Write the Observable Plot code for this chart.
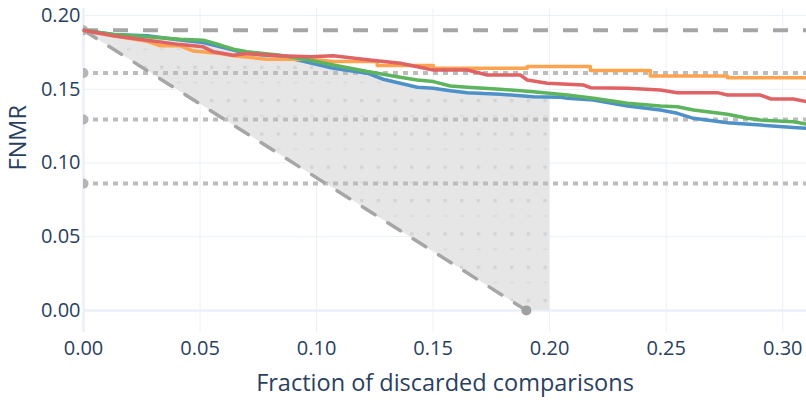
<!DOCTYPE html>
<html>
<head>
<meta charset="utf-8">
<script src="https://cdn.jsdelivr.net/npm/d3@7"></script>
<script src="https://cdn.jsdelivr.net/npm/@observablehq/plot@0.6"></script>
<style>
  html, body { margin: 0; padding: 0; background: white; }
</style>
</head>
<body>
<div id="chart"></div>
<script>
const xTicks = [0, 0.05, 0.10, 0.15, 0.20, 0.25, 0.30];
const yTicks = [0, 0.05, 0.10, 0.15, 0.20];

const baseline = 0.19;
const thresholds = [0.161, 0.1295, 0.086];
const fillLimit = 0.20;

const blueX = [0, 0.0128, 0.0273, 0.0415, 0.0514, 0.0587, 0.0702, 0.0844, 0.0930, 0.1072, 0.1218, 0.1286, 0.1359, 0.1432, 0.1501, 0.1574, 0.1647, 0.1788, 0.1930, 0.2046, 0.2076, 0.2188, 0.2218, 0.2334, 0.2475, 0.2548, 0.2617, 0.2763, 0.2904, 0.3046, 0.3102];
const blueY = [0.19, 0.1871, 0.1863, 0.1835, 0.1817, 0.1788, 0.1742, 0.1724, 0.1695, 0.1643, 0.1609, 0.1568, 0.1541, 0.1514, 0.1507, 0.1490, 0.1477, 0.1466, 0.1450, 0.1446, 0.1439, 0.1427, 0.1418, 0.1386, 0.1359, 0.1337, 0.1303, 0.1273, 0.1257, 0.1241, 0.1235];

const greenX = [0, 0.0128, 0.0273, 0.0415, 0.0514, 0.0587, 0.0643, 0.0702, 0.0844, 0.0973, 0.1072, 0.1218, 0.1359, 0.1432, 0.1501, 0.1574, 0.1647, 0.1788, 0.1930, 0.2076, 0.2188, 0.2334, 0.2475, 0.2548, 0.2617, 0.2763, 0.2848, 0.2904, 0.3046, 0.3102];
const greenY = [0.19, 0.1871, 0.1856, 0.1840, 0.1833, 0.1800, 0.1772, 0.1754, 0.1731, 0.1697, 0.1665, 0.1620, 0.1582, 0.1563, 0.1552, 0.1522, 0.1514, 0.1500, 0.1484, 0.1461, 0.1439, 0.1405, 0.1386, 0.1382, 0.1359, 0.1330, 0.1303, 0.1291, 0.1280, 0.1264];

const redX = [0, 0.0128, 0.0273, 0.0415, 0.0514, 0.0557, 0.0643, 0.0702, 0.0844, 0.0973, 0.1072, 0.1218, 0.1359, 0.1501, 0.1647, 0.1733, 0.1874, 0.1904, 0.1990, 0.2145, 0.2175, 0.2334, 0.2475, 0.2548, 0.2720, 0.2763, 0.2904, 0.2950, 0.3046, 0.3102];
const redY = [0.19, 0.1863, 0.1833, 0.1803, 0.1788, 0.1754, 0.1731, 0.1742, 0.1727, 0.1720, 0.1727, 0.1700, 0.1677, 0.1631, 0.1631, 0.1597, 0.1597, 0.1563, 0.1541, 0.1529, 0.1511, 0.1507, 0.1495, 0.1477, 0.1477, 0.1461, 0.1461, 0.1434, 0.1434, 0.1416];

const orangeX = [0, 0.0128, 0.0273, 0.0330, 0.0415, 0.0472, 0.0587, 0.0643, 0.0788, 0.0973, 0.1072, 0.1260, 0.1260, 0.1501, 0.1501, 0.1904, 0.1904, 0.2175, 0.2175, 0.2432, 0.2432, 0.2763, 0.2763, 0.3102];
const orangeY = [0.19, 0.1863, 0.1826, 0.1795, 0.1795, 0.1759, 0.1742, 0.1727, 0.1704, 0.1704, 0.1688, 0.1688, 0.1662, 0.1662, 0.1643, 0.1643, 0.1654, 0.1654, 0.1627, 0.1627, 0.1590, 0.1590, 0.1579, 0.1579];

const seriesNames = ["blue", "orange", "green", "red"];
const seriesColors = ["#4e90c8", "#ffa34f", "#5cb55c", "#e06264"];

const seriesData = {
  blue: [blueX, blueY],
  orange: [orangeX, orangeY],
  green: [greenX, greenY],
  red: [redX, redY]
};
const rows = seriesNames.flatMap(name =>
  seriesData[name][0].map((x, i) => ({series: name, x, y: seriesData[name][1][i]}))
);

// shaded region between the ideal diagonal and the blue curve, up to fillLimit
const interp = (xs, ys, x) => {
  const i = d3.bisectRight(xs, x);
  if (i <= 0) return ys[0];
  if (i >= xs.length) return ys[ys.length - 1];
  const t = (x - xs[i - 1]) / (xs[i] - xs[i - 1]);
  return ys[i - 1] + t * (ys[i] - ys[i - 1]);
};
const fillXs = Array.from(new Set([...blueX.filter(x => x < fillLimit), baseline, fillLimit])).sort((a, b) => a - b);
const fillRows = fillXs.map(x => ({x, top: interp(blueX, blueY, x), bottom: Math.max(0, baseline - x)}));

const diagonal = [{x: 0, y: baseline}, {x: baseline, y: 0}];
const leftDots = [baseline, ...thresholds].map(y => ({x: 0, y}));

const gridColor = "#ebf0f8";
const textColor = "#2a3f5f";

const svg = Plot.plot({
  width: 806,
  height: 403,
  marginLeft: 83,
  marginRight: 0,
  marginTop: 8,
  marginBottom: 71,
  style: {fontFamily: "'Open Sans', sans-serif", fontSize: "20px", color: textColor, background: "white"},
  x: {domain: [0, 0.3102]},
  y: {domain: [-0.015, 0.2048]},
  marks: [
    Plot.ruleX(xTicks, {stroke: gridColor, strokeWidth: 1}),
    Plot.ruleY(yTicks, {stroke: gridColor, strokeWidth: 1}),
    Plot.ruleX([0], {stroke: gridColor, strokeWidth: 2.5}),
    Plot.ruleY([0], {stroke: gridColor, strokeWidth: 2.5}),
    Plot.areaY(fillRows, {x: "x", y1: "bottom", y2: "top", fill: "#e6e6e6"}),
    Plot.areaY(fillRows, {x: "x", y1: "bottom", y2: "top", fill: "url(#dotpat)"}),
    Plot.ruleY(thresholds, {stroke: "#bdbdbd", strokeWidth: 4, strokeDasharray: "5,5"}),
    Plot.ruleY([baseline], {stroke: "#a6a6a6", strokeWidth: 4, strokeDasharray: "15,15"}),
    Plot.line(diagonal, {x: "x", y: "y", stroke: "#a6a6a6", strokeWidth: 3.5, strokeDasharray: "15,15"}),
    Plot.dot(leftDots, {x: "x", y: "y", r: 5, fill: "#b5b5b5", clip: true}),
    Plot.dot([diagonal[1]], {x: "x", y: "y", r: 5, fill: "#a0a0a0"}),
    ...seriesNames.map((name, i) =>
      Plot.line(rows.filter(d => d.series === name), {x: "x", y: "y", stroke: seriesColors[i], strokeWidth: 3.5, clip: true})
    ),
    Plot.axisX(xTicks, {tickFormat: d3.format(".2f"), tickSize: 0, tickPadding: 8, fontSize: 20, fill: textColor, label: null}),
    Plot.axisY(yTicks, {tickFormat: d3.format(".2f"), tickSize: 0, tickPadding: 3, fontSize: 20, fill: textColor, label: null}),
    Plot.text(["Fraction of discarded comparisons"], {frameAnchor: "bottom", dy: 58, fontSize: 23.5, fill: textColor}),
    Plot.text(["FNMR"], {frameAnchor: "left", dx: -65, rotate: -90, fontSize: 23.5, fill: textColor})
  ]
});

const defs = d3.select(svg).insert("defs", ":first-child");
defs.html(`<pattern id="dotpat" patternUnits="userSpaceOnUse" x="10" y="-1" width="16.67" height="33.33">
  <rect x="0" y="0" width="3.3" height="3.3" fill="#d3d3d3"></rect>
  <rect x="0" y="16.2" width="4" height="1.4" fill="#d8d8d8"></rect>
</pattern>`);

document.getElementById("chart").appendChild(svg);
</script>
</body>
</html>
